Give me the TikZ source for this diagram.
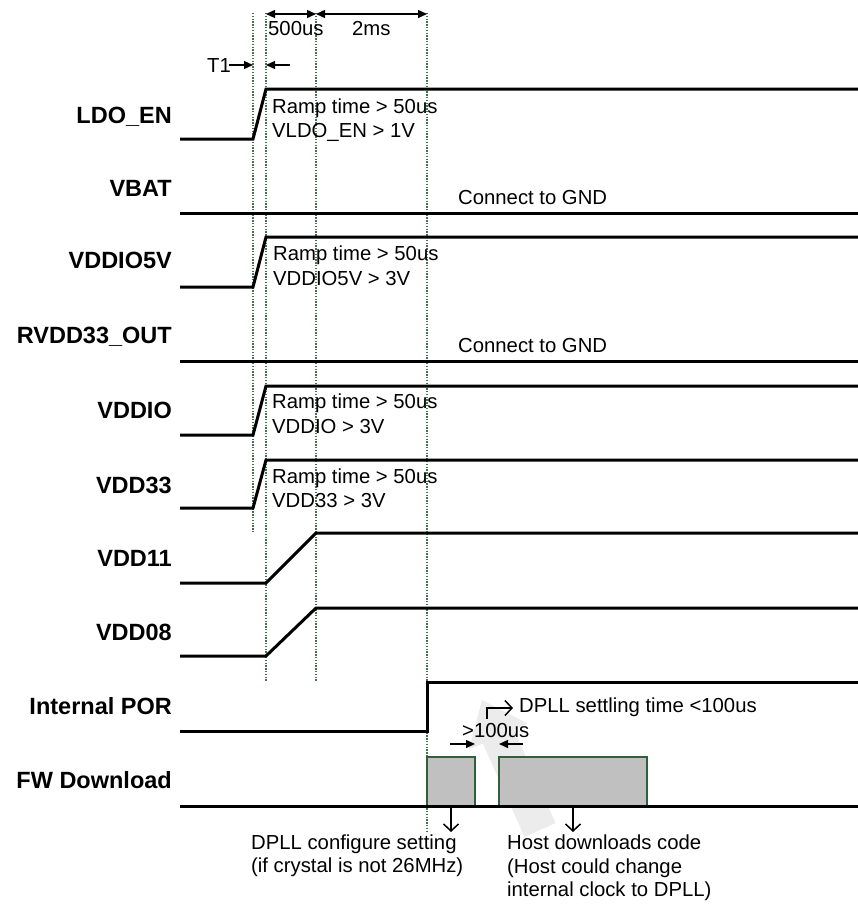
\documentclass[tikz,border=0pt]{standalone}
\usepackage{fontspec}
\setmainfont{Liberation Sans}
\usetikzlibrary{arrows.meta}
\definecolor{guide}{RGB}{70,110,80}
\definecolor{boxedge}{RGB}{50,95,60}
\definecolor{boxfill}{RGB}{192,192,192}
\definecolor{ghost}{RGB}{236,236,236}
\begin{document}
\begin{tikzpicture}[x=1pt,y=-1pt,
  sig/.style={line width=3pt,black,line join=miter},
  guideline/.style={guide,line width=1.2pt,dash pattern=on 1.4pt off 1.4pt},
  lbl/.style={anchor=base east,inner sep=0pt,font=\fontsize{23.5}{28}\selectfont\bfseries},
  note/.style={anchor=base west,inner sep=0pt,font=\fontsize{20.3}{24}\selectfont},
  dimarrow/.style={line width=1.4pt,{Triangle[length=9pt,width=8pt]}-{Triangle[length=9pt,width=8pt]}},
  ptr/.style={line width=1.4pt,-{Triangle[length=9pt,width=8pt]}},
  barb/.style={line width=1.5pt,-{Straight Barb[length=7pt,width=15pt]}},
  fwbox/.style={fill=boxfill,draw=boxedge,line width=1.5pt}]
\useasboundingbox (0,0) rectangle (858,905);
% faint background arrow
\fill[ghost] (482,700) -- (527.5,723.5) -- (513.8,729.6) -- (555.5,823.1) -- (524.5,836.9) -- (482.8,743.4) -- (469.1,749.5) -- cycle;
% guide lines
\coordinate (g1t) at (253,13); \coordinate (g1b) at (253,533);
\coordinate (g2t) at (266,13); \coordinate (g2b) at (266,682);
\coordinate (g3t) at (316,13); \coordinate (g3b) at (316,682);
\coordinate (g4t) at (427,13); \coordinate (g4b) at (427,832);
\draw[guideline] (g1t) -- (g1b);
\draw[guideline] (g2t) -- (g2b);
\draw[guideline] (g3t) -- (g3b);
\draw[guideline] (g4t) -- (g4b);
% top dimensions
\coordinate (d1) at (266,14); \coordinate (d2) at (316,14); \coordinate (d3) at (427,14);
\draw[dimarrow] (d1) -- (d2);
\draw[dimarrow] (d2) -- (d3);
\node[note] (t500) at (268,35) {500us};
\node[note] (t2ms) at (352,35) {2ms};
\node[note] (tT1) at (207,72) {T1};
\coordinate (t1a) at (229,65); \coordinate (t1b) at (253,65);
\coordinate (t1c) at (290,65); \coordinate (t1d) at (266,65);
\draw[ptr] (t1a) -- (t1b);
\draw[ptr] (t1c) -- (t1d);
% labels
\node[lbl] (lLDO) at (172,123) {LDO\_EN};
\node[lbl] (lVBAT) at (172,196) {VBAT};
\node[lbl] (lV5) at (172,268) {VDDIO5V};
\node[lbl] (lRV) at (172,343) {RVDD33\_OUT};
\node[lbl] (lVIO) at (172,418) {VDDIO};
\node[lbl] (lV33) at (172,493) {VDD33};
\node[lbl] (lV11) at (172,566) {VDD11};
\node[lbl] (lV08) at (172,640) {VDD08};
\node[lbl] (lPOR) at (172,714) {Internal POR};
\node[lbl] (lFW) at (172,788) {FW Download};
% signals
\draw[sig] (180,139) -- (253,139) -- (266,89) -- (858,89);
\draw[sig] (180,213) -- (858,213);
\draw[sig] (180,287) -- (253,287) -- (266,237) -- (858,237);
\draw[sig] (180,361) -- (858,361);
\draw[sig] (180,435) -- (253,435) -- (266,386) -- (858,386);
\draw[sig] (180,508) -- (253,508) -- (266,460) -- (858,460);
\draw[sig] (180,583) -- (266,583) -- (316,533) -- (858,533);
\draw[sig] (180,656) -- (266,656) -- (316,608) -- (858,608);
\draw[sig] (180,731) -- (427,731) -- (427,682) -- (858,682);
% FW download boxes
\draw[fwbox] (427,806) rectangle (475,757);
\draw[fwbox] (499,806) rectangle (647,757);
\draw[sig] (180,806) -- (858,806);
% notes
\node[note] (n1a) at (272,113) {Ramp time > 50us};
\node[note] (n1b) at (272,137) {VLDO\_EN > 1V};
\node[note] (n2) at (458,204) {Connect to GND};
\node[note] (n3a) at (273,260) {Ramp time > 50us};
\node[note] (n3b) at (273,285) {VDDIO5V > 3V};
\node[note] (n4) at (458,352) {Connect to GND};
\node[note] (n5a) at (272,408) {Ramp time > 50us};
\node[note] (n5b) at (272,433) {VDDIO > 3V};
\node[note] (n6a) at (272,483) {Ramp time > 50us};
\node[note] (n6b) at (272,507) {VDD33 > 3V};
% >100us gap
\node[note] (ngap) at (462,737) {>100us};
\coordinate (ga) at (450,744); \coordinate (gb) at (475,744);
\coordinate (gc) at (523,744); \coordinate (gd) at (499,744);
\draw[ptr] (ga) -- (gb);
\draw[ptr] (gc) -- (gd);
% DPLL settling
\coordinate (e1) at (487,719); \coordinate (e2) at (487,708); \coordinate (e3) at (513,708);
\draw[barb] (e1) -- (e2) -- (e3);
\node[note] (ndpll) at (519,712) {DPLL settling time <100us};
% down arrows
\coordinate (a1) at (451,806); \coordinate (a2) at (451,832);
\coordinate (b1) at (573,806); \coordinate (b2) at (573,832);
\draw[barb] (a1) -- (a2);
\draw[barb] (b1) -- (b2);
\node[note] (c1) at (251,849) {DPLL configure setting};
\node[note] (c2) at (251,872) {(if crystal is not 26MHz)};
\node[note] (h1) at (507,849) {Host downloads code};
\node[note] (h2) at (507,873) {(Host could change};
\node[note] (h3) at (507,896) {internal clock to DPLL)};
\end{tikzpicture}
\end{document}
